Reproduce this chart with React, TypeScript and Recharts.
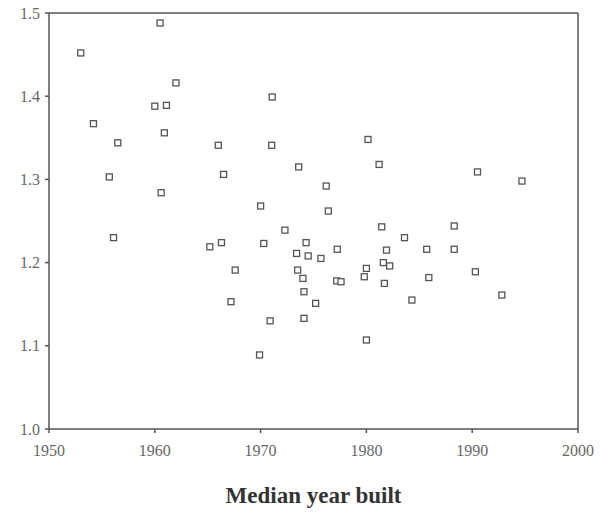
import React from 'react';
import {
  ScatterChart,
  Scatter,
  XAxis,
  YAxis,
  ReferenceLine,
  Label,
} from 'recharts';

// median year built
const years = [
  1953.0, 1960.5, 1962.0, 1971.1, 1960.0, 1961.1, 1954.2, 1960.9, 1956.5, 1966.0,
  1971.05, 1973.6, 1955.7, 1966.5, 1960.6, 1970.0, 1980.15, 1981.2, 1990.5, 1994.7,
  1976.2, 1976.4, 1956.1, 1972.3, 1965.2, 1966.3, 1970.3, 1973.4, 1967.6, 1973.5,
  1967.2, 1970.9, 1969.9, 1981.45, 1988.3, 1983.6, 1974.3, 1974.5, 1975.7, 1977.25,
  1981.9, 1985.7, 1988.3, 1981.6, 1982.2, 1980.0, 1979.8, 1974.0, 1977.2, 1977.6,
  1981.7, 1985.9, 1990.3, 1974.1, 1975.2, 1984.3, 1992.8, 1974.1, 1980.0,
];

const ratios = [
  1.452, 1.488, 1.416, 1.399, 1.388, 1.389, 1.367, 1.356, 1.344, 1.341,
  1.341, 1.315, 1.303, 1.306, 1.284, 1.268, 1.348, 1.318, 1.309, 1.298,
  1.292, 1.262, 1.230, 1.239, 1.219, 1.224, 1.223, 1.211, 1.191, 1.191,
  1.153, 1.130, 1.089, 1.243, 1.244, 1.230, 1.224, 1.208, 1.205, 1.216,
  1.215, 1.216, 1.216, 1.200, 1.196, 1.193, 1.183, 1.181, 1.178, 1.177,
  1.175, 1.182, 1.189, 1.165, 1.151, 1.155, 1.161, 1.133, 1.107,
];

const xTicks = [1950, 1960, 1970, 1980, 1990, 2000];
const yTicks = [1.0, 1.1, 1.2, 1.3, 1.4, 1.5];

const data = years.map((year, i) => ({ year, ratio: ratios[i] }));

const axisColor = '#555';
const tickStyle = { fill: '#666', fontSize: 16, fontFamily: 'Liberation Serif, serif' };

// open square marker
const Square = (props: any) => {
  const { cx, cy } = props;
  if (cx == null || cy == null) return null;
  return (
    <rect
      x={cx - 3}
      y={cy - 3}
      width={6}
      height={6}
      fill="#fff"
      stroke="#555"
      strokeWidth={1.3}
    />
  );
};

const App = () => {
  return (
    <div style={{ position: 'absolute', left: 0, top: 0, background: '#fff' }}>
      <ScatterChart
        width={600}
        height={517}
        margin={{ top: 13, right: 22, left: 0, bottom: 0 }}
      >
        <XAxis
          type="number"
          dataKey="year"
          domain={[1950, 2000]}
          ticks={xTicks}
          interval={0}
          height={88}
          tickSize={4}
          tickMargin={12}
          stroke={axisColor}
          strokeWidth={1.5}
          tick={tickStyle}
        >
          <Label
            value="Median year built"
            position="insideBottom"
            offset={14}
            style={{
              fill: '#333',
              fontSize: 23,
              fontWeight: 'bold',
              fontFamily: 'Liberation Serif, serif',
            }}
          />
        </XAxis>
        <YAxis
          type="number"
          dataKey="ratio"
          domain={[1.0, 1.5]}
          ticks={yTicks}
          interval={0}
          width={49}
          tickSize={4}
          tickMargin={5}
          stroke={axisColor}
          strokeWidth={1.5}
          tick={tickStyle}
          tickFormatter={(v: number) => v.toFixed(1)}
        />
        {/* frame: top and right edges */}
        <ReferenceLine y={1.5} stroke={axisColor} strokeWidth={1.5} />
        <ReferenceLine x={2000} stroke={axisColor} strokeWidth={1.5} />
        <Scatter data={data} shape={Square} isAnimationActive={false} />
      </ScatterChart>
    </div>
  );
};

export default App;
